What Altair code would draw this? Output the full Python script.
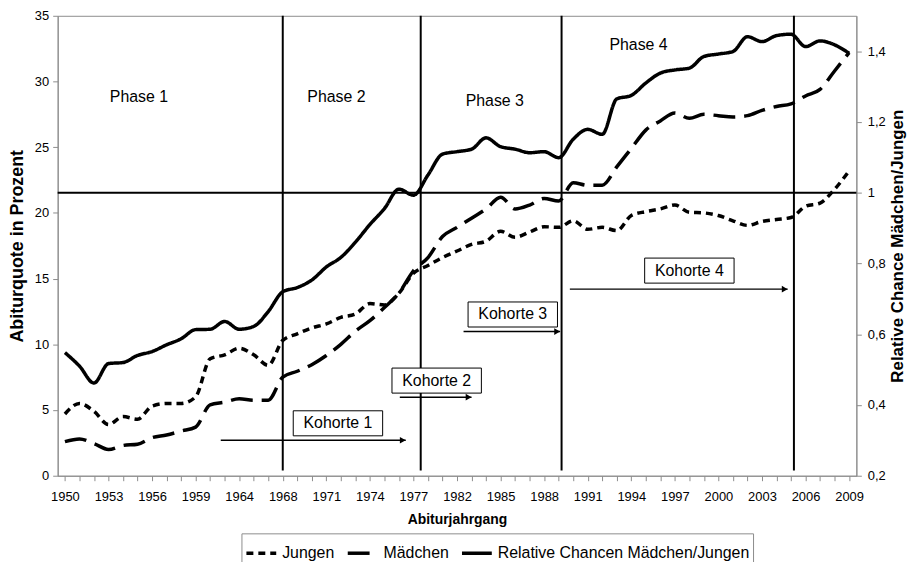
import json
import altair as alt
import pandas as pd

# ---------------- data ----------------
years = ["1950", "1951", "1952", "1953", "1954", "1955", "1956", "1957", "1958", "1959",
         "1960", "1962", "1964", "1965", "1966",
         "1968", "1969", "1970", "1971", "1972", "1973", "1974", "1975", "1976", "1977",
         "1978", "1980",
         "1982", "1983", "1984", "1985", "1986", "1987", "1988", "1989", "1990", "1991",
         "1992", "1993", "1994", "1995", "1996", "1997", "1998", "1999", "2000", "2001",
         "2002", "2003", "2004", "2005", "2006", "2007", "2008", "2009"]

jungen = [4.7, 5.5, 4.9, 3.9, 4.5, 4.3, 5.3, 5.5, 5.5, 6.0,
          8.9, 9.2, 9.7, 9.2, 8.4,
          10.3, 10.8, 11.25, 11.55, 12.05, 12.3, 13.1, 13.0, 13.9, 15.4,
          16.0, 16.6,
          17.1, 17.6, 17.85, 18.6, 18.15, 18.55, 18.95, 18.9, 19.4, 18.75,
          18.9, 18.65, 19.8, 20.1, 20.3, 20.6, 20.05, 20.0, 19.8, 19.4,
          19.05, 19.35, 19.5, 19.65, 20.5, 20.75, 21.8, 23.2]

maedchen = [2.6, 2.8, 2.45, 2.0, 2.3, 2.4, 2.9, 3.1, 3.4, 3.7,
            5.4, 5.6, 5.85, 5.75, 5.75,
            7.5, 7.95, 8.45, 9.15, 10.0, 11.0, 11.8, 12.8, 13.9, 15.6,
            16.6, 18.2,
            18.9, 19.6, 20.3, 21.2, 20.3, 20.6, 21.1, 20.9, 22.3, 22.1,
            22.1, 23.5, 24.9, 26.3, 27.0, 27.6, 27.2, 27.5, 27.4, 27.3,
            27.4, 27.8, 28.1, 28.3, 28.9, 29.4, 30.8, 32.2]

relative = [0.548, 0.51, 0.462, 0.517, 0.52, 0.54, 0.551, 0.57, 0.587, 0.613,
            0.614, 0.636, 0.614, 0.622, 0.664,
            0.72, 0.732, 0.753, 0.79, 0.817, 0.86, 0.91, 0.955, 1.01, 0.993,
            1.05, 1.109,
            1.116, 1.123, 1.155, 1.13, 1.123, 1.113, 1.116, 1.099, 1.151, 1.179,
            1.165, 1.265, 1.275, 1.31, 1.338, 1.347, 1.352, 1.385, 1.392, 1.399,
            1.441, 1.427, 1.444, 1.448, 1.413, 1.429, 1.418, 1.394]

series_names = ["Jungen", "Mädchen", "Relative Chancen Mädchen/Jungen"]

left_ticks = [0, 5, 10, 15, 20, 25, 30, 35]
right_ticks = [0.2, 0.4, 0.6, 0.8, 1.0, 1.2, 1.4]

# annotations (category index on x, left-axis value on y)
phase_labels = ["Phase 1", "Phase 2", "Phase 3", "Phase 4"]
phase_x = [5.1, 18.7, 29.6, 39.5]
phase_y = [28.8, 28.8, 28.5, 32.8]

cohort_labels = ["Kohorte 1", "Kohorte 2", "Kohorte 3", "Kohorte 4"]
cohort_x = [18.8, 25.6, 30.84, 43.0]
cohort_y = [3.99, 7.24, 12.27, 15.61]
arrow_start = [10.73, 23.06, 27.45, 34.77]
arrow_end = [23.47, 28.0, 34.1, 49.77]
arrow_y = [2.7, 5.98, 10.97, 14.2]

divider_x = [15, 24.5, 34.2, 50.2]
equal_chance = [1.0]

# ---------------- tables ----------------
n = len(years)
idx = list(range(n))
left_df = pd.DataFrame({
    "idx": idx * 2,
    "val": jungen + maedchen,
    "series": [series_names[0]] * n + [series_names[1]] * n,
})
right_df = pd.DataFrame({"idx": idx, "rel": relative, "series": [series_names[2]] * n})
phase_df = pd.DataFrame({"idx": phase_x, "val": phase_y, "label": phase_labels})
cohort_df = pd.DataFrame({"idx": cohort_x, "val": cohort_y, "label": cohort_labels})
arrow_df = pd.DataFrame({"idx": arrow_start, "idx2": arrow_end, "val": arrow_y})
divider_df = pd.DataFrame({"idx": divider_x, "val": [0.4] * len(divider_x), "val2": [35] * len(divider_x)})
equal_df = pd.DataFrame({"rel": equal_chance})

FONT = "Liberation Sans"
GRAY = "#8c8c8c"

x_scale = alt.Scale(domain=[-0.5, n - 0.5], nice=False, zero=False)
x_axis = alt.Axis(
    title="Abiturjahrgang", values=idx, grid=False,
    labelExpr="datum.value % 3 == 0 ? " + json.dumps(years) + "[datum.value] : ''",
    labelOverlap=False, labelFlush=False, labelFontSize=13, labelColor="black",
    labelPadding=10, tickSize=5, tickColor=GRAY, domainColor=GRAY,
    titleFontSize=14, titleFontWeight="bold", titlePadding=9, titleColor="black",
)
X = alt.X("idx:Q", scale=x_scale, axis=x_axis)

yl_scale = alt.Scale(domain=[0, 35], nice=False, zero=True)
yl_axis = alt.Axis(
    title="Abiturquote in Prozent", values=left_ticks, grid=False,
    labelFontSize=13, labelColor="black", labelPadding=4, tickSize=5,
    tickColor=GRAY, domainColor=GRAY,
    titleFontSize=18, titleFontWeight="bold", titlePadding=8, titleColor="black",
)
YL = alt.Y("val:Q", scale=yl_scale, axis=yl_axis)

yr_scale = alt.Scale(domain=[0.2, 1.5], nice=False, zero=False)
yr_axis = alt.Axis(
    title="Relative Chance Mädchen/Jungen", orient="right", values=right_ticks, grid=False,
    labelExpr="replace(format(datum.value, '~g'), '.', ',')",
    labelFontSize=13, labelColor="black", labelPadding=6, tickSize=5,
    tickColor=GRAY, domainColor=GRAY,
    titleFontSize=17, titleFontWeight="bold", titlePadding=4, titleColor="black",
    titleAngle=270, titleBaseline="top",
)
YR = alt.Y("rel:Q", scale=yr_scale, axis=yr_axis)

dash = alt.StrokeDash(
    "series:N",
    scale=alt.Scale(domain=series_names, range=[[7, 5], [22, 9], [1, 0]]),
    legend=alt.Legend(
        title=None, orient="none", legendX=185, legendY=521, direction="horizontal",
        symbolType="stroke", symbolSize=900, symbolStrokeWidth=3.5,
        symbolStrokeColor="black", labelFontSize=16, labelColor="black",
        labelLimit=500, columnPadding=6, labelOffset=4, strokeColor=GRAY, padding=3,
        fillColor="white",
    ),
)

dividers = alt.Chart(divider_df).mark_rule(color="black", strokeWidth=2).encode(
    x=X, y=YL, y2="val2:Q")

left_lines = alt.Chart(left_df).mark_line(
    color="black", strokeWidth=3.5, interpolate="monotone").encode(
    x=X, y=YL, strokeDash=dash, detail="series:N")

phases = alt.Chart(phase_df).mark_text(fontSize=16, color="black", align="center",
                                      baseline="middle").encode(x=X, y=YL, text="label:N")

arrows = alt.Chart(arrow_df).mark_rule(color="black", strokeWidth=1.5).encode(
    x=X, x2="idx2:Q", y=YL)
heads = alt.Chart(arrow_df).mark_point(shape="triangle-right", size=45, filled=True,
                                      color="black", opacity=1, xOffset=-3).encode(
    x=alt.X("idx2:Q", scale=x_scale, axis=x_axis), y=YL)

boxes = alt.Chart(cohort_df).mark_point(
    shape="M-1,-0.28L1,-0.28L1,0.28L-1,0.28Z", size=8100, filled=True,
    fill="white", stroke="black", strokeWidth=1, opacity=1).encode(x=X, y=YL)
box_text = alt.Chart(cohort_df).mark_text(fontSize=16, color="black", align="center",
                                         baseline="middle").encode(x=X, y=YL, text="label:N")

left = alt.layer(dividers, left_lines, phases, arrows, heads, boxes, box_text)

equal_rule = alt.Chart(equal_df).mark_rule(color="black", strokeWidth=2).encode(y=YR)
right_line = alt.Chart(right_df).mark_line(
    color="black", strokeWidth=3.5, interpolate="monotone").encode(
    x=X, y=YR, strokeDash=dash)
right = alt.layer(equal_rule, right_line)

chart = alt.layer(left, right).resolve_scale(y="independent").properties(
    width=804, height=463,
    autosize=alt.AutoSizeParams(type="none"),
    padding={"left": 50, "top": 6, "right": 55, "bottom": 85},
).configure(font=FONT).configure_view(stroke=GRAY, strokeWidth=1)

chart.save("out.html", embed_options={"renderer": "svg", "actions": False})
